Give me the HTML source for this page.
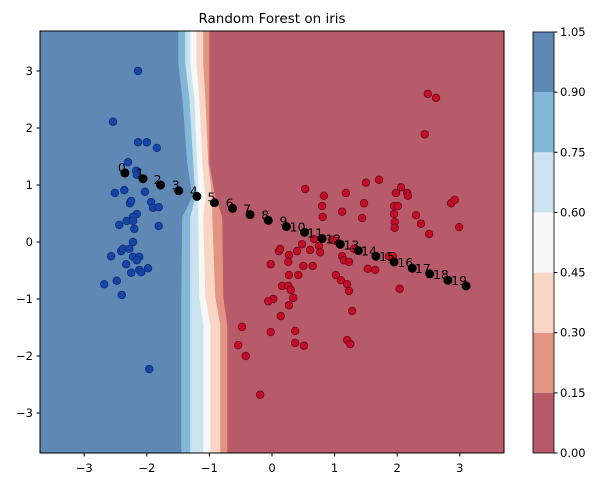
<!DOCTYPE html>
<html><head><meta charset="utf-8"><style>
html,body{margin:0;padding:0;background:#fff;}
svg{display:block;font-family:"DejaVu Sans","Liberation Sans",sans-serif;}
</style></head><body>
<svg id="chart" width="604" height="486" viewBox="0 0 604 486" xmlns="http://www.w3.org/2000/svg">
<text x="272" y="23" font-size="13.5" text-anchor="middle">Random Forest on iris</text>
<g id="regions"></g>
<g id="points"></g>
<g id="path"></g>
<rect x="40" y="31" width="464" height="422" fill="none" stroke="#000" stroke-width="1"/>
<g id="xaxis"></g>
<g id="yaxis"></g>
<g id="cbar"></g>
</svg>
<script>
const xTicks=[-3,-2,-1,0,1,2,3];
const yTicks=[-3,-2,-1,0,1,2,3];
const cbLevels=[0,0.15,0.30,0.45,0.60,0.75,0.90,1.05];
const cbLabels=["0.00","0.15","0.30","0.45","0.60","0.75","0.90","1.05"];
const bandColors=["#b75a69","#e39482","#f8d6c5","#f6f8f7","#cce2ee","#82b7d7","#5f88b5"];
const blueX=[-2.14,-2.54,-2.14,-2.00,-1.84,-2.30,-2.17,-2.16,-2.51,-2.36,-2.03,-2.27,-2.25,-1.93,-1.90,-1.81,-2.16,-2.22,-2.44,-2.32,-2.22,-2.20,-1.81,-2.22,-2.57,-2.41,-2.38,-2.28,-2.22,-2.12,-2.16,-2.33,-2.25,-2.12,-2.09,-1.98,-2.68,-2.48,-2.40,-1.96];
const blueY=[3.00,2.11,1.75,1.75,1.65,1.40,1.25,1.18,0.86,0.91,0.88,0.68,0.72,0.70,0.60,0.61,0.49,0.44,0.30,0.37,0.37,0.23,0.28,0.00,-0.25,-0.16,-0.12,-0.12,-0.26,-0.26,-0.32,-0.39,-0.54,-0.49,-0.53,-0.46,-0.74,-0.68,-0.93,-2.23];
const redX=[0.53,0.83,1.18,1.50,1.47,0.80,0.81,1.12,1.44,0.67,0.48,0.75,0.77,0.61,0.40,0.11,0.13,0.27,0.26,-0.02,0.50,0.65,0.27,0.42,0.96,1.02,1.12,1.15,1.23,1.31,1.53,1.02,1.10,1.20,1.23,1.28,0.16,0.26,0.30,0.34,0.02,-0.06,0.27,0.14,-0.48,-0.02,0.37,-0.54,-0.42,0.37,0.51,1.20,1.25,-0.19,2.49,2.62,2.44,1.71,2.06,1.98,2.16,2.17,1.95,2.01,1.95,2.30,2.86,2.92,1.96,1.96,2.38,2.51,2.99,1.65,1.87,1.93,2.04];
const redY=[0.93,0.81,0.86,1.04,0.68,0.63,0.44,0.53,0.42,0.05,-0.04,-0.07,-0.18,-0.14,-0.16,-0.16,-0.12,-0.23,-0.35,-0.39,-0.42,-0.42,-0.58,-0.58,0.04,0.02,-0.25,-0.32,-0.35,-0.12,-0.47,-0.58,-0.67,-0.74,-0.86,-1.21,-0.77,-0.77,-0.84,-0.98,-1.00,-1.04,-1.11,-1.30,-1.49,-1.58,-1.56,-1.81,-2.00,-1.77,-1.82,-1.72,-1.79,-2.68,2.60,2.53,1.89,1.09,0.96,0.86,0.86,0.81,0.63,0.63,0.49,0.47,0.68,0.74,0.35,0.25,0.32,0.14,0.26,-0.49,-0.25,-0.25,-0.82];
const pathX=[-2.35,-2.06,-1.78,-1.49,-1.20,-0.92,-0.63,-0.35,-0.06,0.23,0.52,0.80,1.09,1.38,1.66,1.95,2.24,2.52,2.81,3.10];
const pathY=[1.21,1.11,1.00,0.90,0.80,0.69,0.59,0.48,0.38,0.27,0.17,0.06,-0.04,-0.15,-0.25,-0.35,-0.46,-0.56,-0.67,-0.77];
const NS="http://www.w3.org/2000/svg";
function sx(v){return 272+v*62.6;}
function sy(v){return 242-v*57;}
function cy(v){return 453-v/1.05*421;}
function mk(tag,attrs,parent){const e=document.createElementNS(NS,tag);for(const k in attrs)e.setAttribute(k,attrs[k]);parent.appendChild(e);return e;}
const edgeY=[31,63,97,163,197,217,297,325,453];
const edges=[
 [178,178,182,187,192,182,181,181,181],
 [185,185,189,193,195,190,190,190,190],
 [190,190,194,197,198,198,199,203,203],
 [196,196,199,202,205,203,205,210,210],
 [203,203,205,208,212,212,215,220,220],
 [209,209,209,209,215,222,223,227,227]];
const reg=document.getElementById('regions');
function edgePts(i){return edgeY.map((y,k)=>edges[i][k]+','+y).join(' ');}
function edgePtsRev(i){return edgeY.map((y,k)=>edges[i][k]+','+y).reverse().join(' ');}
for(let b=0;b<7;b++){
  let pts;
  if(b===0){pts=edgePts(5)+' 504,453 504,31';}
  else if(b===6){pts='40,31 '+edgePts(0)+' 40,453';}
  else{const L=6-b-1,R=6-b;pts=edgePts(L)+' '+edgePtsRev(R);}
  const p=mk('polygon',{points:pts,fill:bandColors[b],stroke:bandColors[b],'stroke-width':0.5},reg);
  
  
}
const pg=document.getElementById('points');
for(let i=0;i<blueX.length;i++){
  const c=mk('circle',{cx:sx(blueX[i]),cy:sy(blueY[i]),r:3.8,fill:'#1545a6',stroke:'#0c2f77','stroke-width':0.8},pg);
  
  
}
for(let i=0;i<redX.length;i++){
  const c=mk('circle',{cx:sx(redX[i]),cy:sy(redY[i]),r:3.8,fill:'#c40d24',stroke:'#6e0a1c','stroke-width':0.8},pg);
  
  
}
const pp=document.getElementById('path');
for(let i=0;i<pathX.length;i++){
  const t=mk('text',{x:sx(pathX[i])+1,y:sy(pathY[i])-1,'font-size':12.5,'text-anchor':'end',fill:'#000'},pp);
  t.textContent=String(i);
  
  
}
for(let i=0;i<pathX.length;i++){
  const c=mk('circle',{cx:sx(pathX[i]),cy:sy(pathY[i]),r:4.5,fill:'#000'},pp);
  
  
}
const xa=document.getElementById('xaxis');
xTicks.forEach(v=>{
  const l=mk('line',{x1:sx(v),x2:sx(v),y1:453,y2:456.5,stroke:'#000'},xa);
  
  
  const t=mk('text',{x:sx(v),y:472,'font-size':11.5,'text-anchor':'middle'},xa);
  t.textContent=(v<0?'\u2212'+(-v):String(v));
  
  
});
const ya=document.getElementById('yaxis');
yTicks.forEach(v=>{
  const l=mk('line',{x1:36.5,x2:40,y1:sy(v),y2:sy(v),stroke:'#000'},ya);
  
  
  const t=mk('text',{x:33,y:sy(v)+4,'font-size':11.5,'text-anchor':'end'},ya);
  t.textContent=(v<0?'\u2212'+(-v):String(v));
  
  
});
const cb=document.getElementById('cbar');
for(let b=0;b<7;b++){
  const r=mk('rect',{x:533,y:cy(cbLevels[b+1]),width:21,height:cy(cbLevels[b])-cy(cbLevels[b+1]),fill:bandColors[b]},cb);
  
  
}
const fr=mk('rect',{x:533,y:32,width:21,height:421,fill:'none',stroke:'#000','stroke-width':0.8},cb);


cbLevels.forEach((v,i)=>{
  const l=mk('line',{x1:554,x2:557.5,y1:cy(v),y2:cy(v),stroke:'#000'},cb);
  
  
  const t=mk('text',{x:560,y:cy(v)+4,'font-size':11.5},cb);
  t.textContent=cbLabels[i];
  
  
});
</script>
</body></html>
